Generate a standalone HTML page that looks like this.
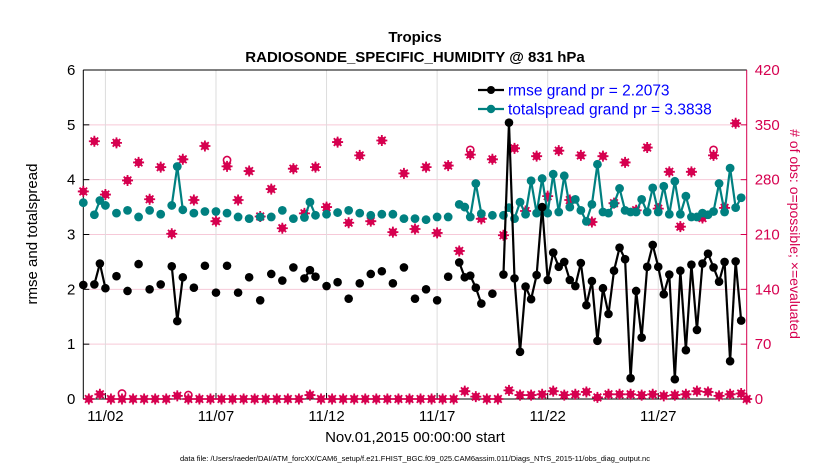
<!DOCTYPE html>
<html><head><meta charset="utf-8"><style>
html,body{margin:0;padding:0;background:#fff;}
svg{display:block;font-family:"Liberation Sans",Arial,sans-serif;}
</style></head><body>
<svg id="chart" width="830" height="470" viewBox="0 0 830 470" xmlns="http://www.w3.org/2000/svg">
<rect width="830" height="470" fill="#fff"/>
<g id="grid"></g>
<g id="axes"></g>
<g id="marks"></g>
<text x="415" y="42" text-anchor="middle" font-size="15" font-weight="bold">Tropics</text>
<text x="415" y="62" text-anchor="middle" font-size="15" font-weight="bold">RADIOSONDE_SPECIFIC_HUMIDITY @ 831 hPa</text>
<text transform="translate(37,234) rotate(-90)" text-anchor="middle" font-size="15">rmse and totalspread</text>
<text transform="translate(790,234) rotate(90)" text-anchor="middle" font-size="14" fill="#d6004f">&#35; of obs: o=possible; &#215;=evaluated</text>
<text x="415" y="442" text-anchor="middle" font-size="15">Nov.01,2015 00:00:00 start</text>
<text x="415" y="461" text-anchor="middle" font-size="7.5">data file: /Users/raeder/DAI/ATM_forcXX/CAM6_setup/f.e21.FHIST_BGC.f09_025.CAM6assim.011/Diags_NTrS_2015-11/obs_diag_output.nc</text>
<g id="legend"></g>
</svg>
<script>
const N = null;
// 6-hourly bins, Nov 1 00Z .. Dec 1 00Z
const rmse = [2.08,N,2.09,2.47,2.02,N,2.24,N,1.97,N,2.46,N,2.00,N,2.09,N,2.42,1.42,2.22,N,
2.03,N,2.43,N,1.94,N,2.43,N,1.94,N,2.22,N,1.80,N,2.28,N,2.16,N,2.40,N,
2.20,2.35,2.23,N,2.06,N,2.13,N,1.83,N,2.11,N,2.28,N,2.33,N,2.11,N,2.40,N,
1.83,N,2.00,N,1.80,N,2.23,N,2.49,2.22,2.25,2.03,1.74,N,1.92,N,2.27,5.04,2.20,0.86,
2.05,1.82,2.26,3.50,2.17,2.67,2.41,2.50,2.17,2.06,2.48,1.71,2.15,1.06,2.02,1.55,2.34,2.76,2.55,0.38,
1.97,1.12,2.41,2.81,2.41,1.91,2.27,0.36,2.34,0.89,2.45,1.26,2.47,2.65,2.40,2.14,2.50,0.69,2.51,1.43,N];
const spread = [3.58,N,3.36,3.62,3.53,N,3.39,N,3.44,N,3.32,N,3.44,N,3.37,N,3.53,4.24,3.45,N,
3.39,N,3.42,N,3.42,N,3.39,N,3.32,N,3.29,N,3.32,N,3.32,N,3.44,N,3.29,N,
3.31,3.59,3.35,N,3.37,N,3.40,N,3.44,N,3.39,N,3.35,N,3.37,N,3.37,N,3.29,N,
3.29,N,3.27,N,3.32,N,3.32,N,3.55,3.50,3.32,3.93,3.38,N,3.35,N,3.35,3.49,3.29,3.59,
3.37,3.98,3.39,4.02,3.39,4.10,3.41,4.07,3.50,3.64,3.44,3.24,3.55,4.28,3.41,3.39,3.56,3.84,3.44,3.41,
3.41,3.64,3.41,3.85,3.41,3.88,3.37,3.97,3.37,3.70,3.32,3.32,3.39,3.36,3.42,3.93,3.41,4.21,3.49,3.67,N];
const evaluated = [265,0,329,6,261,0,327,0,279,0,302,0,255,0,296,0,211,4,306,0,
254,0,323,0,227,0,297,0,254,0,291,0,233,0,268,0,218,0,294,0,
237,5,296,0,245,0,328,0,225,0,311,0,227,0,330,0,213,0,288,0,
217,0,296,0,212,0,298,0,189,10,312,3,230,0,306,0,209,11,320,5,
240,5,310,6,259,10,317,5,254,6,311,9,226,2,310,6,250,6,302,6,
241,5,321,6,243,4,290,5,220,6,290,10,231,9,311,4,244,6,352,7,0];
const possible = [265,0,329,6,261,0,327,7,279,0,302,0,255,0,296,0,211,4,306,5,
254,0,323,0,227,0,305,0,254,0,291,0,233,0,268,0,218,0,294,0,
237,5,296,0,245,0,328,0,225,0,311,0,227,0,330,0,213,0,288,0,
217,0,296,0,212,0,298,0,189,10,318,3,230,0,306,0,209,11,320,5,
240,5,310,6,259,10,317,5,254,6,311,9,226,2,310,6,250,6,302,6,
241,5,321,6,243,4,290,5,220,6,290,10,231,9,318,4,244,6,352,7,0];
const yTicks = [0,1,2,3,4,5,6];
const y2Ticks = [0,70,140,210,280,350,420];
const xTickDays = [1,6,11,16,21,26];
const xTickLabels = ["11/02","11/07","11/12","11/17","11/22","11/27"];
const legendLabels = ["rmse grand pr = 2.2073","totalspread grand pr = 3.3838"];

const L=83.3, R=746.7, T=70, B=399, DAYS=30;
const xs = d => L + d/DAYS*(R-L);
const ys = v => B - v/6*(B-T);
const ys2 = v => B - v/420*(B-T);
const NS="http://www.w3.org/2000/svg";
function mk(tag, attrs, parent){const e=document.createElementNS(NS,tag);for(const k in attrs)e.setAttribute(k,attrs[k]);parent.appendChild(e);return e;}
const grid=document.getElementById('grid'), axes=document.getElementById('axes'), marks=document.getElementById('marks'), legend=document.getElementById('legend');
const CR="#d6004f", TE="#008080";

yTicks.forEach((v,i)=>{
  const y=ys(v);
  if(v>0&&v<6){const g=mk('line',{x1:L,x2:R,y1:y,y2:y,stroke:'#f6c9d8','stroke-width':1},grid);
  
  }
  mk('line',{x1:L,x2:L+6,y1:y,y2:y,stroke:'#000'},axes);
  const t=mk('text',{x:L-8,y:y+5,'text-anchor':'end','font-size':15},axes);t.textContent=v;
  
  
});
y2Ticks.forEach(v=>{
  const y=ys2(v);
  mk('line',{x1:R-6,x2:R,y1:y,y2:y,stroke:CR},axes);
  const t=mk('text',{x:R+8,y:y+5,'font-size':15,fill:CR},axes);t.textContent=v;
  
  
});
xTickDays.forEach((d,i)=>{
  const x=xs(d);
  const g=mk('line',{x1:x,x2:x,y1:T,y2:B,stroke:'#dcdcdc'},grid);
  
  
  mk('line',{x1:x,x2:x,y1:B,y2:B-6,stroke:'#000'},axes);
  const t=mk('text',{x:x,y:B+22,'text-anchor':'middle','font-size':15},axes);t.textContent=xTickLabels[i];
  
  
});
mk('line',{x1:L,x2:R,y1:T,y2:T,stroke:'#000'},axes);
mk('line',{x1:L,x2:R,y1:B,y2:B,stroke:'#000'},axes);
mk('line',{x1:L,x2:L,y1:T,y2:B,stroke:'#000'},axes);
mk('line',{x1:R,x2:R,y1:T,y2:B,stroke:CR},axes);

function obsMark(x,y,g,circle){
  if(circle) mk('circle',{cx:x,cy:y,r:3.6,fill:'none',stroke:CR,'stroke-width':1.6},g);
  else{
    mk('circle',{cx:x,cy:y,r:3.8,fill:CR},g);
    mk('path',{d:`M${x-5.5} ${y}H${x+5.5}M${x} ${y-5.5}V${y+5.5}M${x-3.8} ${y-3.8}L${x+3.8} ${y+3.8}M${x-3.8} ${y+3.8}L${x+3.8} ${y-3.8}`,stroke:CR,'stroke-width':1.8},g);
  }
}
const gp=mk('g',{},marks);


const ge=mk('g',{},marks);


possible.forEach((v,i)=>{ if(v!==evaluated[i]) obsMark(xs(i/4),ys2(v),gp,true); });
evaluated.forEach((v,i)=>{ obsMark(xs(i/4),ys2(v),ge,false); });

function series(arr,color,name,r){
  const g=mk('g',{},marks);
  
  
  for(let i=0;i<arr.length-1;i++){
    if(arr[i]!==null&&arr[i+1]!==null) mk('line',{x1:xs(i/4),y1:ys(arr[i]),x2:xs((i+1)/4),y2:ys(arr[i+1]),stroke:color,'stroke-width':2.2},g);
  }
  arr.forEach((v,i)=>{ if(v!==null) mk('circle',{cx:xs(i/4),cy:ys(v),r:r,fill:color},g); });
}
series(spread,TE,'totalspread-series',4.4);
series(rmse,'#000','rmse-series',4.3);

[['#000',90,4],[TE,109,4.2]].forEach((c,i)=>{
  mk('line',{x1:478,x2:504,y1:c[1],y2:c[1],stroke:c[0],'stroke-width':2.2},legend);
  mk('circle',{cx:491,cy:c[1],r:c[2],fill:c[0]},legend);
  const t=mk('text',{x:508,y:c[1]+5.5,'font-size':15.5,fill:'#0000ff'},legend);t.textContent=legendLabels[i];
  
  
});
</script>
</body></html>
